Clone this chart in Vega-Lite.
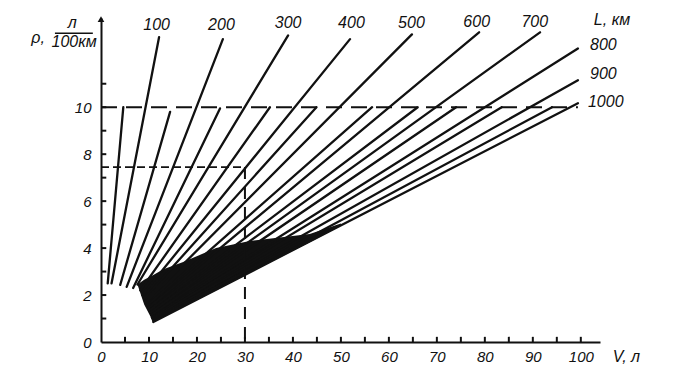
{
  "$schema": "https://vega.github.io/schema/vega-lite/v6.json",
  "width": 499,
  "height": 324,
  "autosize": {"type": "none"},
  "padding": {"left": 101, "top": 18, "right": 80, "bottom": 34},
  "background": "white",
  "config": {
    "view": {"stroke": null},
    "axis": {"grid": false, "ticks": false, "domainColor": "#111", "domainWidth": 2,
             "labelFont": "Liberation Sans", "labelFontStyle": "italic", "labelFontSize": 15, "labelColor": "#111"}
  },
  "datasets": {
    "lines": [
      {"L": 50, "V": 1.4, "rho": 2.5}, {"L": 50, "V": 4.65, "rho": 10.0},
      {"L": 100, "V": 2.2, "rho": 2.5}, {"L": 100, "V": 12.1, "rho": 12.98},
      {"L": 150, "V": 4.0, "rho": 2.43}, {"L": 150, "V": 14.4, "rho": 9.8},
      {"L": 200, "V": 5.35, "rho": 2.35}, {"L": 200, "V": 25.4, "rho": 12.9},
      {"L": 250, "V": 6.7, "rho": 2.3}, {"L": 250, "V": 24.8, "rho": 9.95},
      {"L": 300, "V": 7.6, "rho": 2.45}, {"L": 300, "V": 39.0, "rho": 13.06},
      {"L": 350, "V": 8.2, "rho": 2.2}, {"L": 350, "V": 35.2, "rho": 10.0},
      {"L": 400, "V": 8.6, "rho": 2.0}, {"L": 400, "V": 51.9, "rho": 12.9},
      {"L": 450, "V": 9.0, "rho": 1.85}, {"L": 450, "V": 44.9, "rho": 10.0},
      {"L": 500, "V": 9.3, "rho": 1.7}, {"L": 500, "V": 64.8, "rho": 13.1},
      {"L": 550, "V": 9.6, "rho": 1.55}, {"L": 550, "V": 56.5, "rho": 10.0},
      {"L": 600, "V": 9.9, "rho": 1.45}, {"L": 600, "V": 78.8, "rho": 13.19},
      {"L": 650, "V": 10.1, "rho": 1.35}, {"L": 650, "V": 66.0, "rho": 10.0},
      {"L": 700, "V": 10.3, "rho": 1.25}, {"L": 700, "V": 91.5, "rho": 13.19},
      {"L": 750, "V": 10.5, "rho": 1.15}, {"L": 750, "V": 74.0, "rho": 10.0},
      {"L": 800, "V": 10.6, "rho": 1.05}, {"L": 800, "V": 99.4, "rho": 12.5},
      {"L": 850, "V": 10.7, "rho": 1.0}, {"L": 850, "V": 83.5, "rho": 10.0},
      {"L": 900, "V": 10.8, "rho": 0.95}, {"L": 900, "V": 99.4, "rho": 11.15},
      {"L": 950, "V": 10.9, "rho": 0.9}, {"L": 950, "V": 94.0, "rho": 10.0},
      {"L": 1000, "V": 10.9, "rho": 0.85}, {"L": 1000, "V": 99.4, "rho": 10.17}
    ],
    "blob": [
      {"V": 7.6, "lo": 2.45, "hi": 2.45},
      {"V": 9.0, "lo": 1.6, "hi": 2.65},
      {"V": 10.9, "lo": 0.85, "hi": 2.85},
      {"V": 13, "lo": 1.06, "hi": 3.1},
      {"V": 17, "lo": 1.48, "hi": 3.4},
      {"V": 24, "lo": 2.2, "hi": 4.0},
      {"V": 31, "lo": 2.95, "hi": 4.3},
      {"V": 43.5, "lo": 4.25, "hi": 4.6},
      {"V": 50, "lo": 4.95, "hi": 5.05}
    ],
    "xticks": [
      {"V": 5}, {"V": 10}, {"V": 15}, {"V": 20}, {"V": 25}, {"V": 30}, {"V": 35}, {"V": 40}, {"V": 45}, {"V": 50},
      {"V": 55}, {"V": 60}, {"V": 65}, {"V": 70}, {"V": 75}, {"V": 80}, {"V": 85}, {"V": 90}, {"V": 95}, {"V": 100}
    ],
    "yticks": [
      {"rho": 1}, {"rho": 2}, {"rho": 3}, {"rho": 4}, {"rho": 5}, {"rho": 6}, {"rho": 7}, {"rho": 8}, {"rho": 9}, {"rho": 10}, {"rho": 11}
    ],
    "labels": [
      {"t": "100", "V": 11.6, "rho": 13.49},
      {"t": "200", "V": 25.1, "rho": 13.49},
      {"t": "300", "V": 39.0, "rho": 13.59},
      {"t": "400", "V": 52.2, "rho": 13.59},
      {"t": "500", "V": 64.7, "rho": 13.59},
      {"t": "600", "V": 78.3, "rho": 13.63},
      {"t": "700", "V": 90.4, "rho": 13.63},
      {"t": "L, км", "V": 106.5, "rho": 13.7},
      {"t": "800", "V": 104.7, "rho": 12.64},
      {"t": "900", "V": 104.7, "rho": 11.43},
      {"t": "1000", "V": 105.2, "rho": 10.23},
      {"t": "ρ,", "V": -13.1, "rho": 12.94},
      {"t": "л", "V": -6.0, "rho": 13.57},
      {"t": "100км", "V": -5.6, "rho": 12.77},
      {"t": "V, л", "V": 109.5, "rho": -0.64}
    ]
  },
  "layer": [
    {
      "data": {"name": "blob"},
      "mark": {"type": "area", "color": "#111", "opacity": 1},
      "encoding": {
        "x": {"field": "V", "type": "quantitative", "scale": {"domain": [0, 104], "nice": false},
              "axis": {"title": null, "values": [0,10,20,30,40,50,60,70,80,90,100], "labelPadding": 7, "labelFlush": false}},
        "y": {"field": "lo", "type": "quantitative", "scale": {"domain": [0, 13.8], "nice": false},
              "axis": {"title": null, "values": [0,2,4,6,8,10], "labelPadding": 10}},
        "y2": {"field": "hi"}
      }
    },
    {
      "data": {"name": "lines"},
      "mark": {"type": "line", "color": "#111", "strokeWidth": 2.3, "strokeCap": "round"},
      "encoding": {
        "x": {"field": "V", "type": "quantitative"},
        "y": {"field": "rho", "type": "quantitative"},
        "detail": {"field": "L"}
      }
    },
    {
      "data": {"name": "xticks"},
      "mark": {"type": "rule", "color": "#111", "strokeWidth": 2},
      "encoding": {"x": {"field": "V", "type": "quantitative"}, "y": {"datum": 0, "type": "quantitative"}, "y2": {"datum": 0.22}}
    },
    {
      "data": {"name": "yticks"},
      "mark": {"type": "rule", "color": "#111", "strokeWidth": 2},
      "encoding": {"y": {"field": "rho", "type": "quantitative"}, "x": {"datum": 0, "type": "quantitative"}, "x2": {"datum": 1.1}}
    },
    {
      "data": {"values": [{"V1": 0, "V2": 99.4, "r1": 10, "r2": 10}]},
      "mark": {"type": "rule", "color": "#111", "strokeWidth": 2, "strokeDash": [16, 9]},
      "encoding": {"x": {"field": "V1", "type": "quantitative"}, "x2": {"field": "V2"}, "y": {"field": "r1", "type": "quantitative"}, "y2": {"field": "r2"}}
    },
    {
      "data": {"values": [{"V1": 0, "V2": 30, "r1": 7.45, "r2": 7.45}]},
      "mark": {"type": "rule", "color": "#111", "strokeWidth": 1.8, "strokeDash": [8, 4]},
      "encoding": {"x": {"field": "V1", "type": "quantitative"}, "x2": {"field": "V2"}, "y": {"field": "r1", "type": "quantitative"}, "y2": {"field": "r2"}}
    },
    {
      "data": {"values": [{"V1": 30, "V2": 30, "r1": 7.45, "r2": 0}]},
      "mark": {"type": "rule", "color": "#111", "strokeWidth": 2, "strokeDash": [12, 8]},
      "encoding": {"x": {"field": "V1", "type": "quantitative"}, "x2": {"field": "V2"}, "y": {"field": "r1", "type": "quantitative"}, "y2": {"field": "r2"}}
    },
    {
      "data": {"values": [{"V1": -9.6, "V2": -1.7, "r1": 13.15, "r2": 13.15}]},
      "mark": {"type": "rule", "color": "#111", "strokeWidth": 1.5},
      "encoding": {"x": {"field": "V1", "type": "quantitative"}, "x2": {"field": "V2"}, "y": {"field": "r1", "type": "quantitative"}, "y2": {"field": "r2"}}
    },
    {
      "data": {"name": "labels"},
      "mark": {"type": "text", "font": "Liberation Sans", "fontStyle": "italic", "fontSize": 16, "color": "#111", "align": "center", "baseline": "middle"},
      "encoding": {
        "x": {"field": "V", "type": "quantitative"},
        "y": {"field": "rho", "type": "quantitative"},
        "text": {"field": "t"}
      }
    },
    {
      "data": {"values": [{"V": 0, "rho": 13.75}]},
      "mark": {"type": "point", "shape": "triangle-up", "size": 45, "filled": true, "color": "#111", "opacity": 1},
      "encoding": {"x": {"field": "V", "type": "quantitative"}, "y": {"field": "rho", "type": "quantitative"}}
    }
  ]
}
